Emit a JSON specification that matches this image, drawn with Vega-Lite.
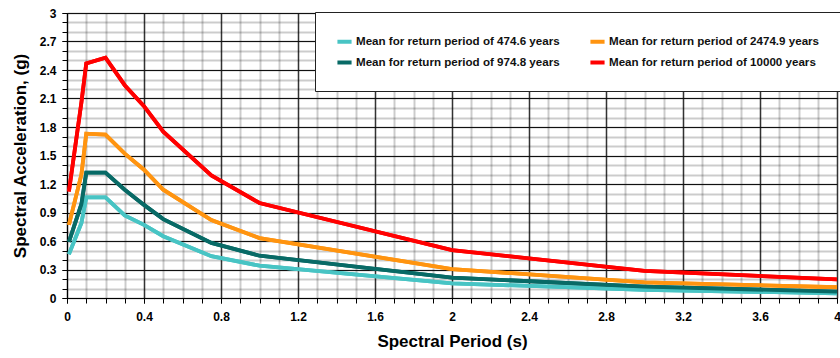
{
  "$schema": "https://vega.github.io/schema/vega-lite/v6.json",
  "width": 770,
  "height": 285,
  "autosize": "none",
  "padding": {"left": 67, "top": 13, "right": 3, "bottom": 60},
  "background": "white",
  "config": {
    "view": {"stroke": null},
    "font": "Liberation Sans"
  },
  "data": {
    "values": [
      {"period": 0.01, "sa": 0.46, "series": "Mean for return period of 474.6 years"},
      {"period": 0.075, "sa": 0.79, "series": "Mean for return period of 474.6 years"},
      {"period": 0.1, "sa": 1.06, "series": "Mean for return period of 474.6 years"},
      {"period": 0.2, "sa": 1.06, "series": "Mean for return period of 474.6 years"},
      {"period": 0.3, "sa": 0.87, "series": "Mean for return period of 474.6 years"},
      {"period": 0.4, "sa": 0.77, "series": "Mean for return period of 474.6 years"},
      {"period": 0.5, "sa": 0.65, "series": "Mean for return period of 474.6 years"},
      {"period": 0.75, "sa": 0.44, "series": "Mean for return period of 474.6 years"},
      {"period": 1.0, "sa": 0.34, "series": "Mean for return period of 474.6 years"},
      {"period": 2.0, "sa": 0.155, "series": "Mean for return period of 474.6 years"},
      {"period": 3.0, "sa": 0.085, "series": "Mean for return period of 474.6 years"},
      {"period": 4.0, "sa": 0.05, "series": "Mean for return period of 474.6 years"},

      {"period": 0.01, "sa": 1.12, "series": "Mean for return period of 10000 years"},
      {"period": 0.075, "sa": 2.06, "series": "Mean for return period of 10000 years"},
      {"period": 0.1, "sa": 2.47, "series": "Mean for return period of 10000 years"},
      {"period": 0.2, "sa": 2.53, "series": "Mean for return period of 10000 years"},
      {"period": 0.3, "sa": 2.24, "series": "Mean for return period of 10000 years"},
      {"period": 0.4, "sa": 2.02, "series": "Mean for return period of 10000 years"},
      {"period": 0.5, "sa": 1.75, "series": "Mean for return period of 10000 years"},
      {"period": 0.75, "sa": 1.29, "series": "Mean for return period of 10000 years"},
      {"period": 1.0, "sa": 1.0, "series": "Mean for return period of 10000 years"},
      {"period": 2.0, "sa": 0.505, "series": "Mean for return period of 10000 years"},
      {"period": 3.0, "sa": 0.285, "series": "Mean for return period of 10000 years"},
      {"period": 4.0, "sa": 0.197, "series": "Mean for return period of 10000 years"},

      {"period": 0.01, "sa": 0.77, "series": "Mean for return period of 2474.9 years"},
      {"period": 0.075, "sa": 1.3, "series": "Mean for return period of 2474.9 years"},
      {"period": 0.1, "sa": 1.73, "series": "Mean for return period of 2474.9 years"},
      {"period": 0.2, "sa": 1.72, "series": "Mean for return period of 2474.9 years"},
      {"period": 0.3, "sa": 1.52, "series": "Mean for return period of 2474.9 years"},
      {"period": 0.4, "sa": 1.35, "series": "Mean for return period of 2474.9 years"},
      {"period": 0.5, "sa": 1.14, "series": "Mean for return period of 2474.9 years"},
      {"period": 0.75, "sa": 0.82, "series": "Mean for return period of 2474.9 years"},
      {"period": 1.0, "sa": 0.63, "series": "Mean for return period of 2474.9 years"},
      {"period": 2.0, "sa": 0.305, "series": "Mean for return period of 2474.9 years"},
      {"period": 3.0, "sa": 0.165, "series": "Mean for return period of 2474.9 years"},
      {"period": 4.0, "sa": 0.113, "series": "Mean for return period of 2474.9 years"},

      {"period": 0.01, "sa": 0.59, "series": "Mean for return period of 974.8 years"},
      {"period": 0.075, "sa": 0.99, "series": "Mean for return period of 974.8 years"},
      {"period": 0.1, "sa": 1.32, "series": "Mean for return period of 974.8 years"},
      {"period": 0.2, "sa": 1.32, "series": "Mean for return period of 974.8 years"},
      {"period": 0.3, "sa": 1.14, "series": "Mean for return period of 974.8 years"},
      {"period": 0.4, "sa": 0.98, "series": "Mean for return period of 974.8 years"},
      {"period": 0.5, "sa": 0.83, "series": "Mean for return period of 974.8 years"},
      {"period": 0.75, "sa": 0.58, "series": "Mean for return period of 974.8 years"},
      {"period": 1.0, "sa": 0.445, "series": "Mean for return period of 974.8 years"},
      {"period": 2.0, "sa": 0.214, "series": "Mean for return period of 974.8 years"},
      {"period": 3.0, "sa": 0.12, "series": "Mean for return period of 974.8 years"},
      {"period": 4.0, "sa": 0.067, "series": "Mean for return period of 974.8 years"}
    ]
  },
  "encoding": {
    "color": {
      "field": "series",
      "type": "nominal",
      "scale": {
        "domain": [
          "Mean for return period of 474.6 years",
          "Mean for return period of 2474.9 years",
          "Mean for return period of 974.8 years",
          "Mean for return period of 10000 years"
        ],
        "range": ["#48C4C4", "#FF9410", "#086A66", "#FF0000"]
      },
      "legend": {
        "title": null,
        "orient": "none",
        "legendX": 248,
        "legendY": -1,
        "direction": "horizontal",
        "columns": 2,
        "columnPadding": 22,
        "rowPadding": 3,
        "padding": 20,
        "fillColor": "white",
        "strokeColor": "#222",
        "symbolType": "stroke",
        "symbolSize": 200,
        "symbolStrokeWidth": 4,
        "symbolOffset": 0,
        "labelFont": "Liberation Sans",
        "labelFontSize": 11.6,
        "labelFontWeight": "bold",
        "labelColor": "#111",
        "labelOffset": 2,
        "labelLimit": 400,
        "zindex": 1
      }
    }
  },
  "layer": [
    {
      "mark": {"type": "line", "strokeWidth": 3.8, "clip": true},
      "encoding": {
        "x": {
          "field": "period",
          "type": "quantitative",
          "scale": {"domain": [0, 4], "nice": false, "zero": false},
          "axis": {
            "orient": "bottom",
            "title": null,
            "values": [0,0.1,0.2,0.3,0.4,0.5,0.6,0.7,0.8,0.9,1,1.1,1.2,1.3,1.4,1.5,1.6,1.7,1.8,1.9,2,2.1,2.2,2.3,2.4,2.5,2.6,2.7,2.8,2.9,3,3.1,3.2,3.3,3.4,3.5,3.6,3.7,3.8,3.9,4],
            "labels": false,
            "domain": false,
            "tickColor": "#000",
            "tickSize": 5,
            "grid": true,
            "gridColor": "#000000",
            "gridOpacity": 0.2,
            "gridWidth": 2,
            "zindex": 0
          }
        },
        "y": {
          "field": "sa",
          "type": "quantitative",
          "scale": {"domain": [0, 3], "nice": false},
          "axis": {
            "orient": "left",
            "title": null,
            "values": [0,0.1,0.2,0.3,0.4,0.5,0.6,0.7,0.8,0.9,1,1.1,1.2,1.3,1.4,1.5,1.6,1.7,1.8,1.9,2,2.1,2.2,2.3,2.4,2.5,2.6,2.7,2.8,2.9,3],
            "labels": false,
            "domain": false,
            "tickColor": "#000",
            "tickSize": 5,
            "grid": true,
            "gridColor": "#000000",
            "gridOpacity": 0.2,
            "gridWidth": 2,
            "zindex": 0
          }
        }
      }
    },
    {
      "mark": {"type": "line", "strokeWidth": 3.8, "clip": true},
      "encoding": {
        "x": {
          "field": "period",
          "type": "quantitative",
          "scale": {"domain": [0, 4], "nice": false, "zero": false},
          "axis": {
            "orient": "bottom",
            "title": "Spectral Period (s)",
            "titleFont": "Liberation Sans",
            "titleFontSize": 17,
            "titleFontWeight": "bold",
            "titleColor": "#000",
            "titlePadding": 11,
            "values": [0, 0.4, 0.8, 1.2, 1.6, 2, 2.4, 2.8, 3.2, 3.6, 4],
            "labelExpr": "'' + round(datum.value*10)/10",
            "labelFont": "Liberation Sans",
            "labelFontSize": 12,
            "labelFontWeight": "bold",
            "labelColor": "#000",
            "labelPadding": 8,
            "labelFlush": false,
            "labelOverlap": false,
            "domainColor": "#000",
            "domainWidth": 1,
            "tickColor": "#000",
            "tickSize": 5,
            "grid": true,
            "gridColor": "#333333",
            "gridWidth": 1.3,
            "zindex": 0
          }
        },
        "y": {
          "field": "sa",
          "type": "quantitative",
          "scale": {"domain": [0, 3], "nice": false},
          "axis": {
            "orient": "left",
            "title": "Spectral Acceleration, (g)",
            "titleFont": "Liberation Sans",
            "titleFontSize": 17,
            "titleFontWeight": "bold",
            "titleColor": "#000",
            "titlePadding": 10,
            "values": [0, 0.3, 0.6, 0.9, 1.2, 1.5, 1.8, 2.1, 2.4, 2.7, 3],
            "labelExpr": "'' + round(datum.value*10)/10",
            "labelFont": "Liberation Sans",
            "labelFontSize": 12,
            "labelFontWeight": "bold",
            "labelColor": "#000",
            "labelPadding": 6,
            "labelFlush": false,
            "labelOverlap": false,
            "domainColor": "#000",
            "domainWidth": 1,
            "tickColor": "#000",
            "tickSize": 5,
            "grid": true,
            "gridColor": "#111111",
            "gridWidth": 1.2,
            "zindex": 0
          }
        }
      }
    }
  ],
  "resolve": {"axis": {"x": "independent", "y": "independent"}}
}
